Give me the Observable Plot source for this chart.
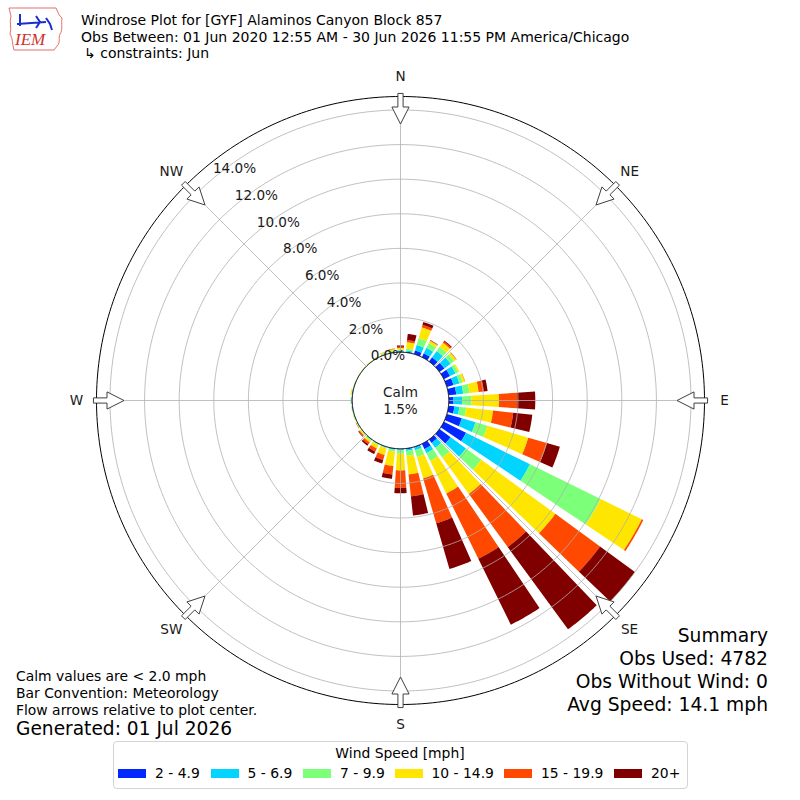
<!DOCTYPE html>
<html>
<head>
<meta charset="utf-8">
<script src="https://cdn.jsdelivr.net/npm/d3@7"></script>
<script src="https://cdn.jsdelivr.net/npm/@observablehq/plot@0.6"></script>
<style>
html,body{margin:0;padding:0;background:#fff;}
#page{position:relative;width:800px;height:800px;overflow:hidden;font-family:"DejaVu Sans",sans-serif;color:#000;}
#chart{position:absolute;left:0;top:0;width:800px;height:800px;}
.t{position:absolute;white-space:nowrap;line-height:normal;}
#legend{position:absolute;left:113px;top:741px;width:575px;height:48px;border:1px solid #d4d4d4;border-radius:4px;box-sizing:border-box;}
.sw{position:absolute;width:28px;height:9px;top:769px;}
</style>
</head>
<body>
<div id="page">
  <div id="chart"></div>
  <svg style="position:absolute;left:6px;top:4px" width="60" height="48" viewBox="0 0 60 48">
    <path d="M3,4 L50,4 C52,8 53,12 56,14 C55,20 57,26 54,30 C52,34 55,38 51,42 L48,46 L8,46 C6,40 7,34 4,30 C6,24 3,18 5,12 Z" fill="none" stroke="#e07070" stroke-width="1"/>
    <path d="M14,10 L14,22 M11,20 L40,18 M30,12 L34,18 L30,24 M40,14 L44,20 L46,26" fill="none" stroke="#1a2fd0" stroke-width="2"/>
    <text x="9" y="41" font-family="Liberation Serif" font-style="italic" font-size="17" fill="#d03030">IEM</text>
  </svg>
  <div class="t" style="left:81px;top:12.2px;font-size:14px">Windrose Plot for [GYF] Alaminos Canyon Block 857</div>
  <div class="t" style="left:81px;top:28.7px;font-size:14px">Obs Between: 01 Jun 2020 12:55 AM - 30 Jun 2026 11:55 PM America/Chicago</div>
  <div class="t" style="left:84px;top:45px;font-size:14px">↳ constraints: Jun</div>

  <div class="t" style="left:16px;top:668px;font-size:13.9px">Calm values are &lt; 2.0 mph</div>
  <div class="t" style="left:16px;top:684.8px;font-size:13.9px">Bar Convention: Meteorology</div>
  <div class="t" style="left:16px;top:702px;font-size:13.9px">Flow arrows relative to plot center.</div>
  <div class="t" style="left:16px;top:717.6px;font-size:18.6px">Generated: 01 Jul 2026</div>

  <div class="t" style="right:32px;top:624.5px;font-size:18.7px;text-align:right">Summary</div>
  <div class="t" style="right:32px;top:647.8px;font-size:18.7px;text-align:right">Obs Used: 4782</div>
  <div class="t" style="right:32px;top:671px;font-size:18.7px;text-align:right">Obs Without Wind: 0</div>
  <div class="t" style="right:32px;top:694.4px;font-size:18.7px;text-align:right">Avg Speed: 14.1 mph</div>

  <div id="legend"></div>
  <div class="t" style="left:0;width:800px;text-align:center;top:745.4px;font-size:13.9px">Wind Speed [mph]</div>
  <div id="legitems"></div>
</div>
<script>
// ---------------- data ----------------
const directions = [0,10,20,30,40,50,60,70,80,90,100,110,120,130,140,150,160,170,
                    180,190,200,210,220,230,240,250,260,270,280,290,300,310,320,330,340,350];
const speedBins = ["2 - 4.9","5 - 6.9","7 - 9.9","10 - 14.9","15 - 19.9","20+"];
const binColors = ["#0028ff","#00d4ff","#7cff79","#ffe600","#ff4800","#800000"];
// percent of observations per direction, one array per speed bin
const freq2to5 =  [.05,.05,.22,.25,.30,.35,.40,.40,.45,.25,.34,.90,1.43,.80,.25,.34,.05,.05,
                   .03,.03,.02,.02,.02,.01,.01,.01,.02,.02,.02,.01,.01,.01,.01,.01,.02,.03];
const freq5to7 =  [.05,.07,.33,.35,.45,.45,.35,.35,.40,.52,.29,.82,4.12,1.10,.35,.26,.15,.09,
                   .07,.05,.03,.03,.03,.02,.01,.02,.03,.04,.03,.02,.01,.01,.01,.02,.03,.03];
const freq7to10 = [.05,.10,.41,.30,.30,.25,.17,.20,.37,.53,.39,.72,4.55,1.10,.70,.50,.40,.29,
                   .19,.10,.05,.05,.05,.03,.03,.03,.02,.02,.02,.02,.02,.02,.02,.03,.05,.06];
const freq10to15 =[.10,.38,.65,.15,.30,.15,.08,.13,.53,1.60,1.57,2.46,2.65,5.30,2.60,2.10,1.30,1.08,
                   .96,.84,.39,.20,.12,.08,.03,.02,.01,.02,.05,.01,.01,.01,.02,.02,.05,.08];
const freq15to20 =[.07,.12,.15,.03,.10,.02,0,.02,.30,1.05,1.17,1.12,.10,3.20,3.80,4.20,2.70,1.27,
                   1.01,.49,.30,.20,.13,.06,.01,0,0,0,0,0,0,0,0,0,.01,.02];
const freq20plus =[.07,.36,.17,.02,.05,.01,0,0,.22,1.05,1.11,.78,0,2.50,5.90,4.25,2.75,1.12,
                   .31,.25,.21,.16,.10,.04,.01,0,0,0,0,0,0,0,0,0,0,.01];
const ringLevels = [2,4,6,8,10,12,14];
const ringLabels = ["0.0%","2.0%","4.0%","6.0%","8.0%","10.0%","12.0%","14.0%"];
const compass = ["N","NE","E","SE","S","SW","W","NW"];
const compassBearings = [0,45,90,135,180,225,270,315];
const calmPct = 1.5;

// ---------------- geometry helpers ----------------
const pxPerPct = 17.3;              // radial scale: pixels per percent
const calmR = 48.3 / pxPerPct;      // radius of calm circle (0 %) in percent units
const maxR = 304 / pxPerPct;        // outer circle
const half = 400 / pxPerPct;
const barWidth = 7.6;               // degrees
const rad = d => d * Math.PI / 180;
const P = (b, r) => ({x: r * Math.sin(rad(b)), y: r * Math.cos(rad(b))});

const series = [freq2to5, freq5to7, freq7to10, freq10to15, freq15to20, freq20plus];

// wedge polygons
const wedges = [];
directions.forEach((dir, i) => {
  let base = 0;
  series.forEach((s, j) => {
    const v = s[i];
    const r0 = calmR + base, r1 = calmR + base + v;
    base += v;
    if (v <= 0) return;
    const id = dir + "-" + j;
    const a0 = dir - barWidth / 2, a1 = dir + barWidth / 2;
    const n = 16;
    for (let k = 0; k <= n; k++) { const p = P(a0 + (a1 - a0) * k / n, r1); wedges.push({id, bin: speedBins[j], ...p}); }
    for (let k = n; k >= 0; k--) { const p = P(a0 + (a1 - a0) * k / n, r0); wedges.push({id, bin: speedBins[j], ...p}); }
  });
});

function circle(r, key) {
  const pts = [];
  for (let a = 0; a < 360; a += 1) pts.push({key, ...P(a, r)});
  return pts;
}
const rings = ringLevels.flatMap(p => circle(calmR + p, p));
const outer = circle(maxR, "outer");
const calm = circle(calmR, "calm");
const spokes = compassBearings.map(b => ({b, ...P(b, 0), x2: P(b, maxR).x, y2: P(b, maxR).y}));

// hollow inward-pointing flow arrows (shape in pixels along/across the radius)
const arrowShape = [[306.7,-2.6],[293.5,-2.6],[293.5,-8.6],[276.5,0],[293.5,8.6],[293.5,2.6],[306.7,2.6]];
const arrows = compassBearings.flatMap(b => arrowShape.map(([a, c]) => {
  const u = P(b, a / pxPerPct), s = rad(b);
  return {b, x: u.x + (c / pxPerPct) * Math.cos(s), y: u.y - (c / pxPerPct) * Math.sin(s)};
}));

const labelBearing = -39.3;
const rLabels = ringLabels.map((t, i) => ({t, ...P(labelBearing, calmR + 2 * i)}));
const cLabels = compass.map((t, i) => ({t, ...P(compassBearings[i], 324 / pxPerPct)}));

const chart = Plot.plot({
  width: 800, height: 800, margin: 0,
  style: {fontFamily: "DejaVu Sans", fontSize: "13.6px", background: "white"},
  x: {domain: [-half, half], axis: null},
  y: {domain: [-half, half], axis: null},
  color: {domain: speedBins, range: binColors},
  marks: [
    Plot.line(wedges, {x: "x", y: "y", z: "id", fill: "bin", stroke: "none", curve: "linear-closed"}),
    Plot.line(rings, {x: "x", y: "y", z: "key", stroke: "#b0b0b0", strokeWidth: 0.8, curve: "linear-closed"}),
    Plot.link(spokes, {x1: "x", y1: "y", x2: "x2", y2: "y2", stroke: "#b0b0b0", strokeWidth: 0.8}),
    Plot.line(outer, {x: "x", y: "y", stroke: "black", strokeWidth: 1, curve: "linear-closed"}),
    Plot.line(calm, {x: "x", y: "y", fill: "white", stroke: "black", strokeWidth: 1, curve: "linear-closed"}),
    Plot.line(arrows, {x: "x", y: "y", z: "b", fill: "white", stroke: "#404040", strokeWidth: 1, strokeLinejoin: "miter", curve: "linear-closed"}),
    Plot.text(rLabels, {x: "x", y: "y", text: "t", dx: 18, dy: -7, fill: "#1a1a1a"}),
    Plot.text(cLabels, {x: "x", y: "y", text: "t", fill: "#1a1a1a"}),
    Plot.text([{x: 0, y: 0}], {x: "x", y: "y", text: () => "Calm\n" + calmPct.toFixed(1) + "%", lineHeight: 1.25, fill: "#1a1a1a"})
  ]
});
document.getElementById("chart").appendChild(chart);

// legend
const legendX = [118, 210.5, 303, 394.5, 504, 614];
const items = document.getElementById("legitems");
speedBins.forEach((b, i) => {
  const sw = document.createElement("div");
  sw.className = "sw"; sw.style.left = legendX[i] + "px"; sw.style.background = binColors[i];
  items.appendChild(sw);
  const lb = document.createElement("div");
  lb.className = "t"; lb.style.left = (legendX[i] + 37) + "px"; lb.style.top = "765.4px"; lb.style.fontSize = "13.9px";
  lb.textContent = b;
  items.appendChild(lb);
});
</script>
</body>
</html>
